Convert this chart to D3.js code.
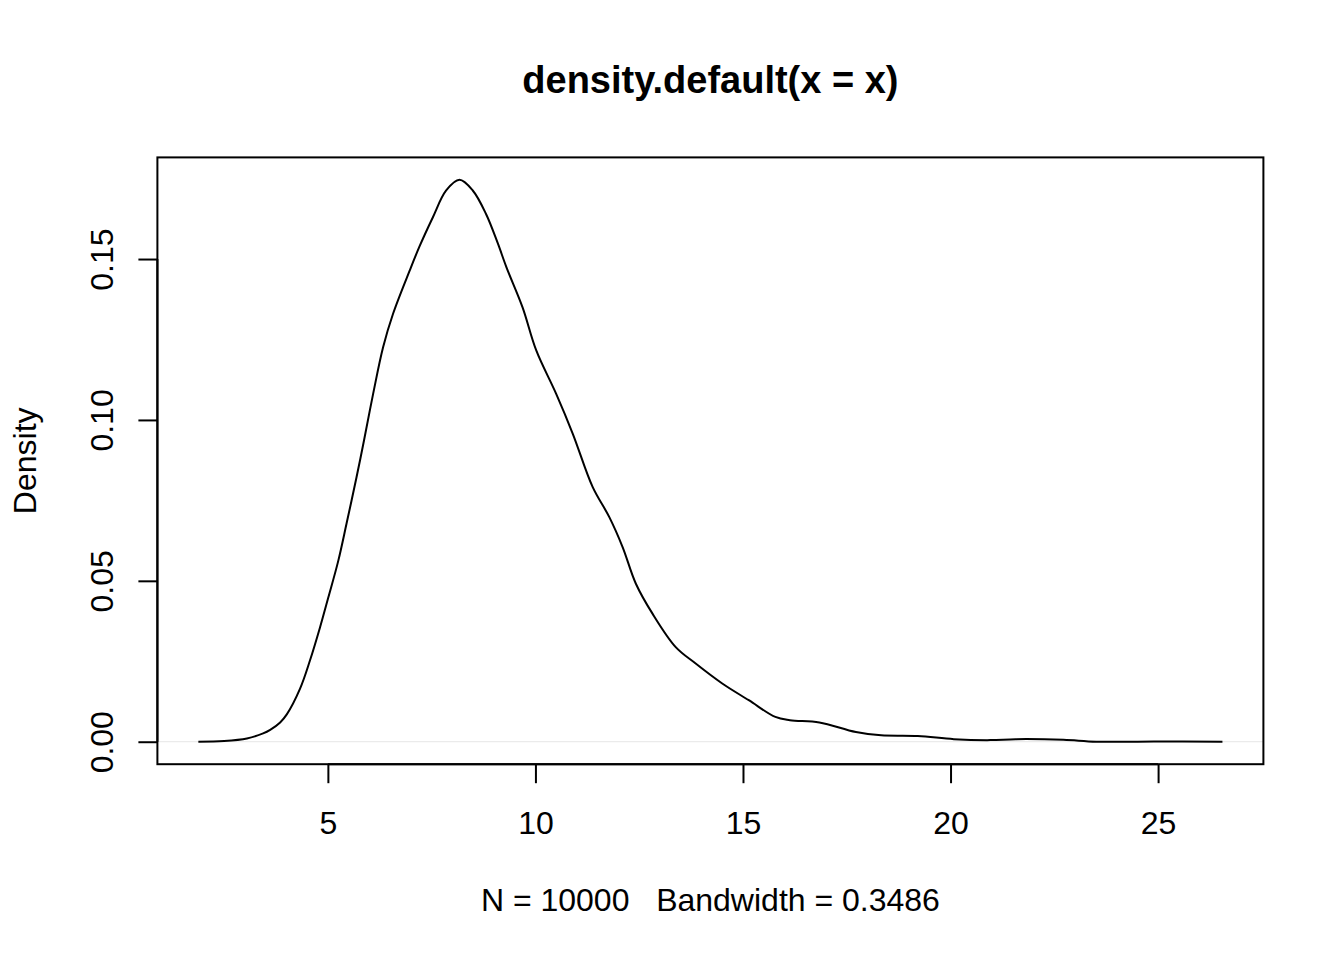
<!DOCTYPE html>
<html>
<head>
<meta charset="utf-8">
<script src="https://cdn.jsdelivr.net/npm/d3@7"></script>
<style>
  html, body { margin: 0; padding: 0; background: #fff; }
  svg { display: block; font-family: "Liberation Sans", Arial, sans-serif; }
</style>
</head>
<body>
<div id="chart"></div>
<script>
// density estimate
const densityX = [1.88, 2.5, 3.05, 3.44, 3.61, 3.85, 4.01, 4.33, 4.57, 4.81, 5.01, 5.25, 5.45, 5.69, 5.87,
  6.09, 6.33, 6.57, 6.97, 7.21, 7.53, 7.85, 8.17, 8.49, 8.81, 9.09, 9.30, 9.69,
  10.02, 10.50, 10.90, 11.38, 11.78, 12.10, 12.42, 12.82, 13.38, 13.86, 14.50, 15.14,
  15.78, 16.13, 16.84, 17.72, 18.33, 19.21, 20.08, 20.96, 21.57, 22.72, 23.51, 24.90, 26.55];
const densityY = [0.0000, 0.0002, 0.0010, 0.0026, 0.0037, 0.0060, 0.0085, 0.0165, 0.0253, 0.0355, 0.0448, 0.0562, 0.0678, 0.0822, 0.0936,
  0.1081, 0.1226, 0.1330, 0.1464, 0.1540, 0.1630, 0.1713, 0.1746, 0.1713, 0.1640, 0.1550, 0.1475, 0.1350,
  0.1216, 0.1081, 0.0957, 0.0791, 0.0698, 0.0605, 0.0491, 0.0398, 0.0294, 0.0243, 0.0181, 0.0129,
  0.0077, 0.0067, 0.0060, 0.0030, 0.0020, 0.0018, 0.0008, 0.0005, 0.0008, 0.0006, 0.0000, 0.0001, 0.0000];

const xTicks = [5, 10, 15, 20, 25];
const yTicks = [0, 0.05, 0.10, 0.15];

const title = "density.default(x = x)";
const subTitle = "N = 10000   Bandwidth = 0.3486";
const yLabel = "Density";

const width = 1344;
const height = 960;
const margin = { top: 157.4, right: 80.6, bottom: 195.8, left: 157.4 };

const svg = d3.select("#chart")
  .append("svg")
    .attr("width", width)
    .attr("height", height)
    .attr("viewBox", [0, 0, width, height]);

// R style 4% padding on both axes
const pad = (ext) => { const r = ext[1] - ext[0]; return [ext[0] - r * 0.04, ext[1] + r * 0.04]; };

const x = d3.scaleLinear()
  .domain(pad(d3.extent(densityX)))
  .range([margin.left, width - margin.right]);

const y = d3.scaleLinear()
  .domain(pad(d3.extent(densityY)))
  .range([height - margin.bottom, margin.top]);

const pts = densityX.map((d, i) => [d, densityY[i]]);

// faint zero line
svg.append("line")
  .attr("x1", margin.left)
  .attr("x2", width - margin.right)
  .attr("y1", y(0))
  .attr("y2", y(0))
  .attr("stroke", "#e6e6e6")
  .attr("stroke-width", 1);

svg.append("path")
  .datum(pts)
  .attr("fill", "none")
  .attr("stroke", "#000")
  .attr("stroke-width", 2)
  .attr("stroke-linejoin", "round")
  .attr("d", d3.line()
    .x(d => x(d[0]))
    .y(d => y(d[1]))
    .curve(d3.curveCatmullRom.alpha(0.5)));

// box
svg.append("rect")
  .attr("x", margin.left)
  .attr("y", margin.top)
  .attr("width", width - margin.left - margin.right)
  .attr("height", height - margin.top - margin.bottom)
  .attr("fill", "none")
  .attr("stroke", "#000")
  .attr("stroke-width", 2);

// x axis
const xAxis = svg.append("g")
  .attr("transform", `translate(0,${height - margin.bottom})`)
  .call(d3.axisBottom(x).tickValues(xTicks).tickSize(19).tickPadding(0).tickFormat(d3.format("d")));
xAxis.select(".domain")
  .attr("d", `M${x(xTicks[0])},0H${x(xTicks[xTicks.length - 1])}`)
  .attr("stroke-width", 2);
xAxis.selectAll(".tick line").attr("stroke-width", 2);
xAxis.selectAll(".tick text")
  .attr("font-size", 32)
  .attr("font-family", "Liberation Sans, Arial, sans-serif")
  .attr("fill", "#000")
  .attr("dy", null)
  .attr("y", 70);

// y axis
const yAxis = svg.append("g")
  .attr("transform", `translate(${margin.left},0)`)
  .call(d3.axisLeft(y).tickValues(yTicks).tickSize(19).tickFormat(d3.format(".2f")));
yAxis.select(".domain")
  .attr("d", `M0,${y(yTicks[0])}V${y(yTicks[yTicks.length - 1])}`)
  .attr("stroke-width", 2);
yAxis.selectAll(".tick line").attr("stroke-width", 2);
yAxis.selectAll(".tick text")
  .attr("font-size", 32)
  .attr("font-family", "Liberation Sans, Arial, sans-serif")
  .attr("fill", "#000")
  .attr("x", null)
  .attr("dy", null)
  .attr("text-anchor", "middle")
  .attr("transform", "translate(-44,0) rotate(-90)");

// titles
svg.append("text")
  .attr("x", (margin.left + width - margin.right) / 2)
  .attr("y", 93)
  .attr("text-anchor", "middle")
  .attr("font-size", 38)
  .attr("font-weight", "bold")
  .text(title);

svg.append("text")
  .attr("x", (margin.left + width - margin.right) / 2)
  .attr("y", 911)
  .attr("text-anchor", "middle")
  .attr("font-size", 32)
  .style("white-space", "pre")
  .text(subTitle);

svg.append("text")
  .attr("transform", `translate(36,${(margin.top + height - margin.bottom) / 2}) rotate(-90)`)
  .attr("text-anchor", "middle")
  .attr("font-size", 32)
  .text(yLabel);
</script>
</body>
</html>
